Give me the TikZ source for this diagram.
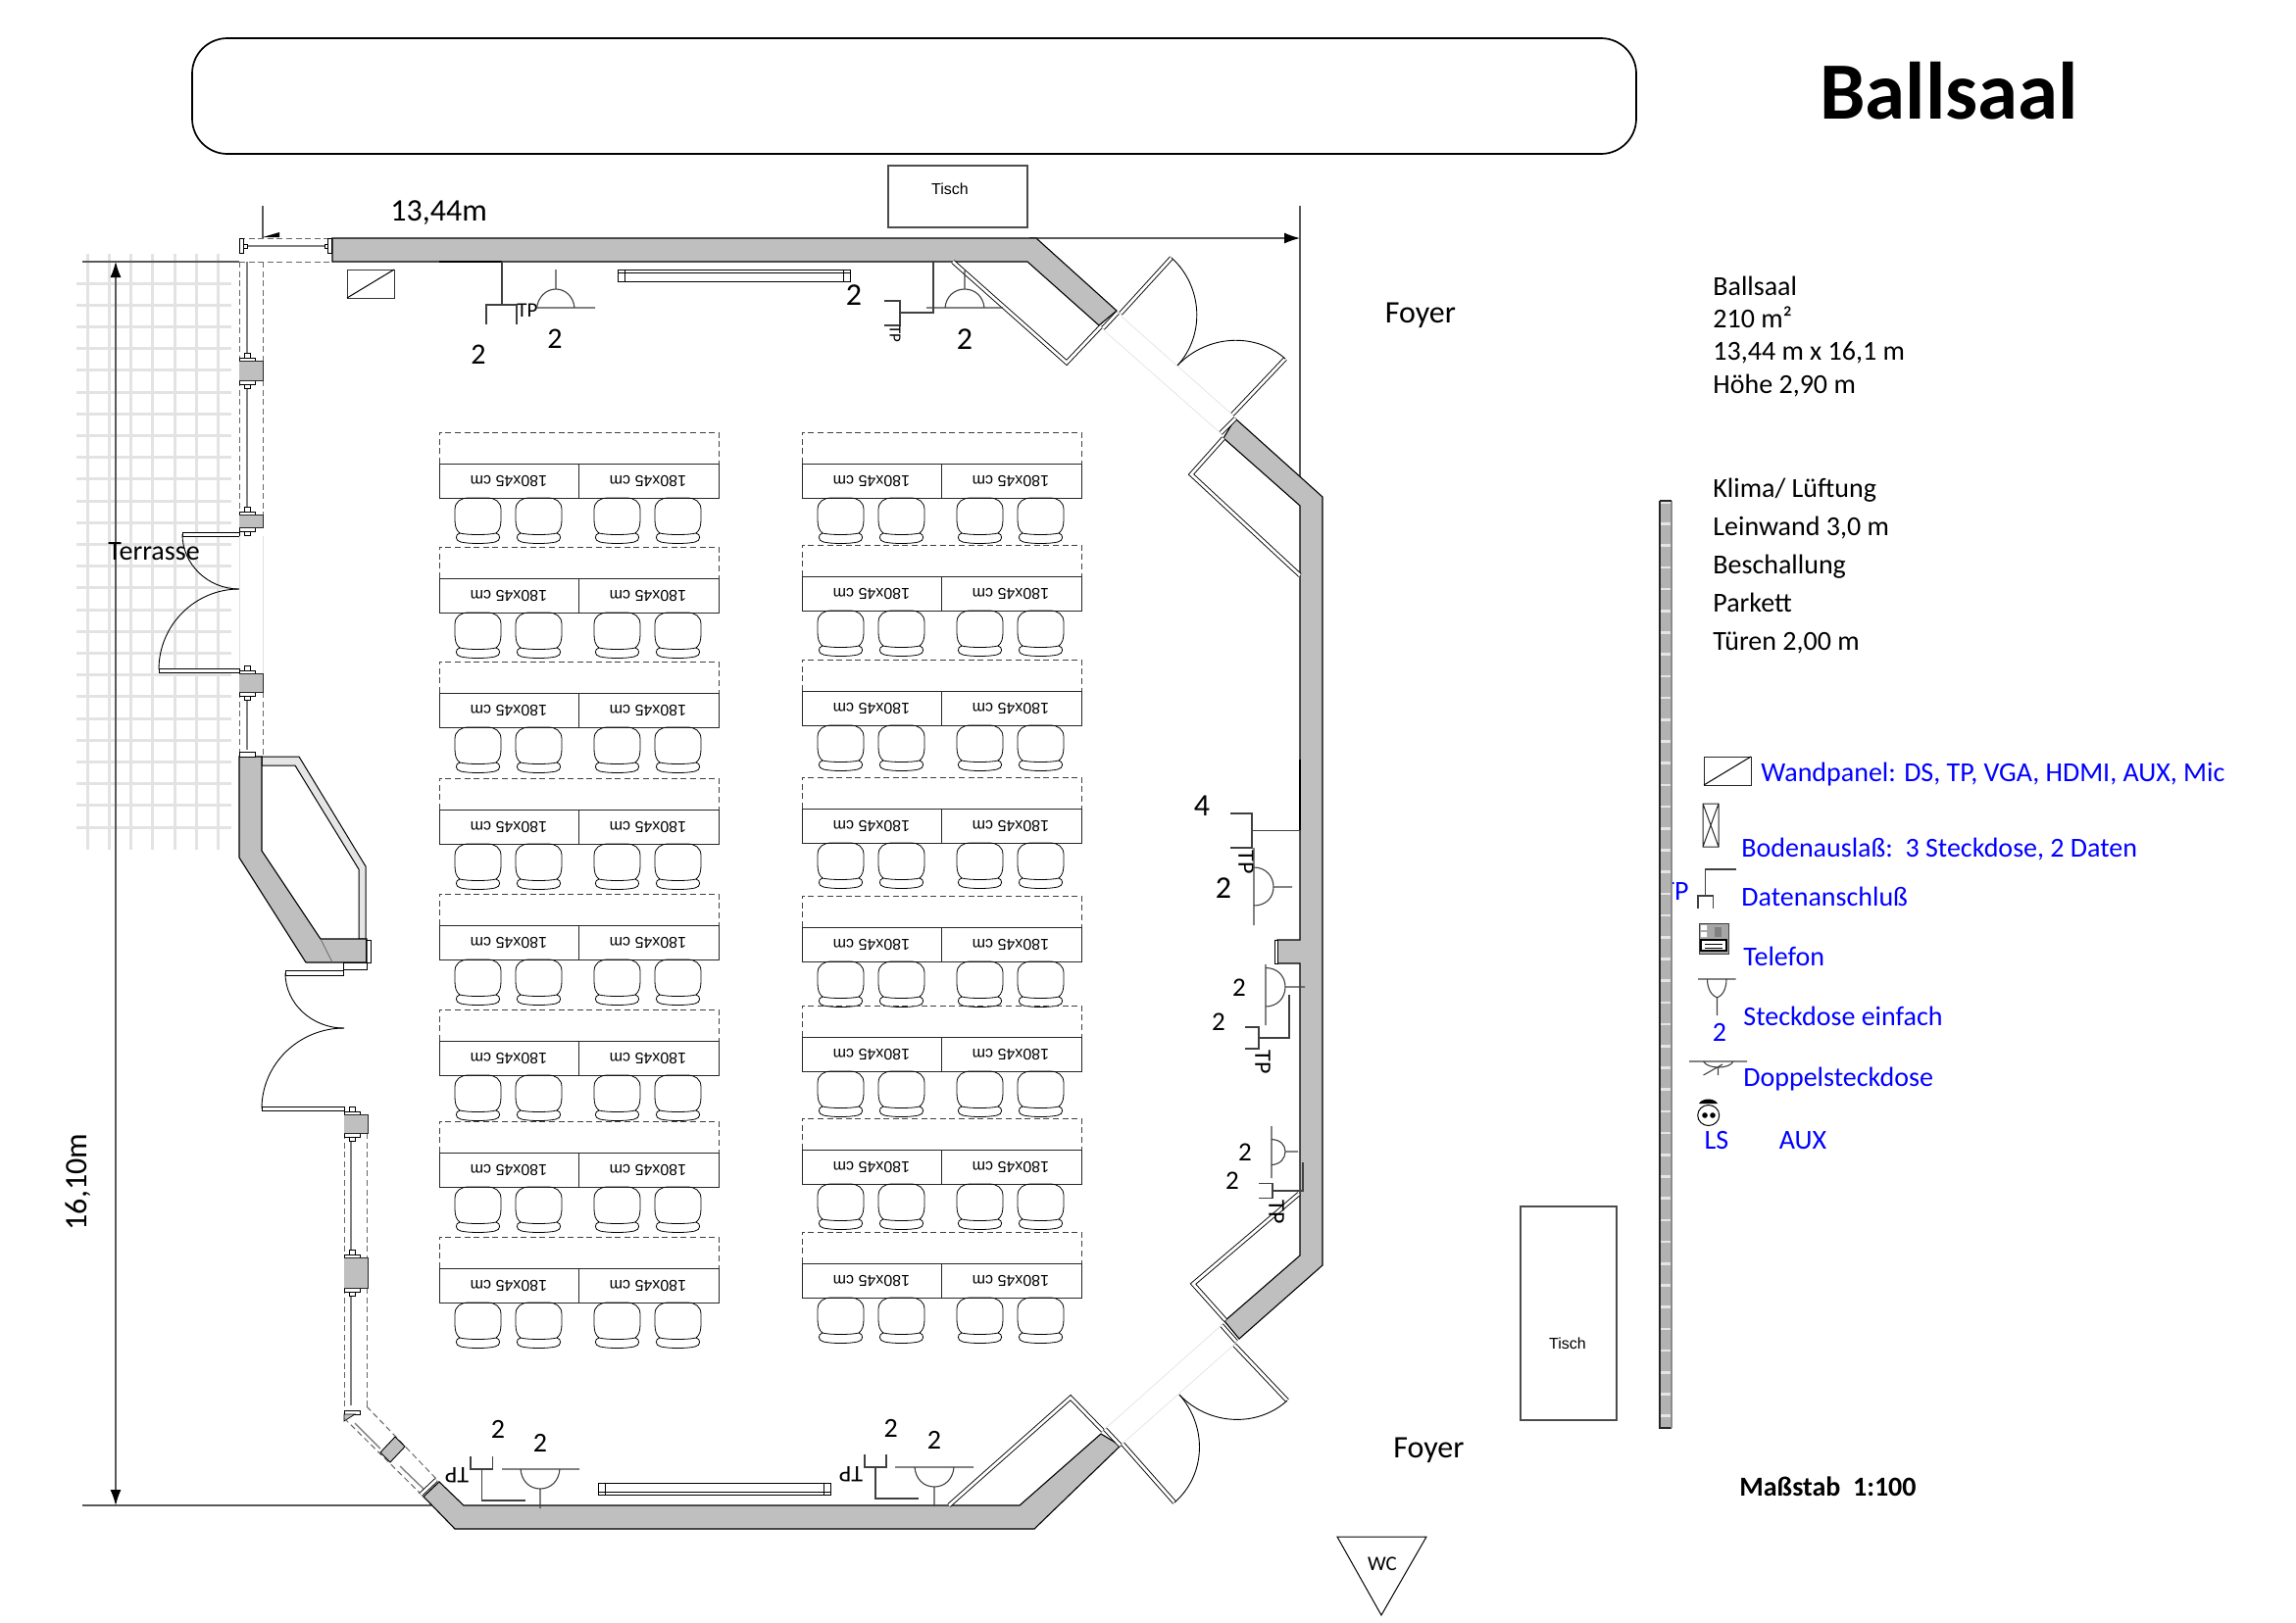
\documentclass[tikz,border=0pt]{standalone}
\usepackage{fontspec}
\setmainfont{Carlito}
\newfontfamily\arialf{Liberation Sans}
\usetikzlibrary{calc,arrows.meta}
\definecolor{wallg}{gray}{.75}
\definecolor{stripg}{gray}{.70}
\definecolor{gridg}{gray}{.89}
\definecolor{legblue}{rgb}{0,0,1}
\newcommand{\szf}[1]{\fontsize{#1}{#1}\selectfont}
\tikzset{
  x=0.5pt,y=-0.5pt,
  thin line/.style={line width=.45pt,draw=black},
  wall/.style={fill=wallg,draw=black,line width=.55pt,line join=miter},
  band/.style={fill=black!10,draw=black,line width=.5pt},
  dbl/.style={line width=.45pt,double=white,double distance=1.4pt,draw=black,line join=miter},
  faint/.style={line width=.3pt,draw=black!12},
  dimline/.style={line width=.6pt,draw=black!65},
  dimarrow/.style={-{Latex[length=8pt,width=5.5pt,black]}},
  sym/.style={line width=.55pt,draw=black!75},
  dash box/.style={line width=.4pt,draw=black!75,dash pattern=on 3pt off 1.8pt},
  win dash/.style={line width=.5pt,draw=black!60,dash pattern=on 3pt off 1.8pt},
  rod/.style={line width=.7pt,draw=black!50},
  gridl/.style={line width=1.5pt,draw=gridg},
  txt/.style={inner sep=0pt,anchor=base west,text=black},
  ctr/.style={inner sep=0pt,anchor=center,text=black},
  leg/.style={inner sep=0pt,anchor=base west,text=legblue,font=\szf{14}},
  info/.style={inner sep=0pt,anchor=base west,text=black,font=\szf{14}},
  num/.style={inner sep=0pt,anchor=center,text=black,font=\szf{16}},
  nums/.style={inner sep=0pt,anchor=center,text=black,font=\szf{13.5}},
  tp/.style={inner sep=0pt,anchor=center,text=black,font=\szf{12}},
  tablabel/.style={inner sep=0pt,anchor=center,rotate=180,font=\arialf\szf{8},text=black},
}
% door: hinge, tip, end of arc
\newcommand{\doorarc}[6]{%
  \draw[thin line] (#3,#4) .. controls ($(#3,#4)+0.55*(#5,#6)-0.55*(#1,#2)$) and ($(#5,#6)+0.55*(#3,#4)-0.55*(#1,#2)$) .. (#5,#6);
}
\newcommand{\seat}[2]{%
  \begin{scope}[shift={(#1,#2)}]
  \draw[line width=.4pt] (5,36) .. controls (1,33) and (0,28) .. (0,22) -- (0,12) .. controls (0,4) and (6,0) .. (14,0) -- (33,0) .. controls (41,0) and (47,4) .. (47,12) -- (47,22) .. controls (47,28) and (46,33) .. (42,36) .. controls (34,38) and (13,38) .. (5,36) .. controls (0,37) and (0,44) .. (6,45) .. controls (15,47) and (32,47) .. (41,45) .. controls (47,44) and (47,37) .. (42,36);
  \end{scope}%
}
% left x, dashed top y
\newcommand{\tablerow}[2]{%
  \begin{scope}[shift={(#1,#2)}]
  \draw[dash box] (0,32) -- (0,0) -- (285,0) -- (285,32);
  \draw[line width=.4pt,draw=black!85] (0,32) rectangle (285,67);
  \draw[line width=.4pt,draw=black!85] (142,32) -- (142,67);
  \node[tablabel] (tl#1x#2) at (71,50) {180x45 cm};
  \node[tablabel] (tr#1x#2) at (213,50) {180x45 cm};
  \end{scope}
  \pgfmathsetmacro{\sy}{#2+67}%
  \seat{#1+16}{\sy}\seat{#1+78}{\sy}\seat{#1+158}{\sy}\seat{#1+220}{\sy}%
}
% window post in column at x0
\newcommand{\winpost}[3]{%
  \begin{scope}[shift={(#1,0)}]
  \draw[line width=.35pt,fill=white] (5,#2-8) rectangle (11,#2-3);
  \draw[line width=.35pt,fill=white] (0,#2-3) rectangle (16,#2+1);
  \draw[line width=.35pt,fill=white] (5,#3+3) rectangle (11,#3+8);
  \draw[line width=.35pt,fill=white] (0,#3-1) rectangle (16,#3+4);
  \fill[wallg] (0,#2) rectangle (24,#3);
  \draw[line width=.45pt,draw=black!85] (0,#2) -- (24,#2) -- (24,#3) -- (0,#3);
  \end{scope}%
}
\begin{document}
\begin{tikzpicture}
\useasboundingbox (0,0) rectangle (2342,1656);
\fill[white] (0,0) rectangle (2342,1656);

% terrace grid
\foreach \i in {0,...,25} \draw[gridl] (78,289+22.2*\i) -- (236,289+22.2*\i);
\foreach \i in {0,...,6} \draw[gridl] (89+22.3*\i,259) -- (89+22.3*\i,867);

% banner and title
\draw[line width=.85pt,rounded corners=18pt] (196,39) rectangle (1669,157);
\node[ctr,font=\bfseries\szf{41.5}] (title) at (1988,93) {Ballsaal};

% dimension lines
\coordinate (dimTL) at (1050,243); \coordinate (dimTR) at (1326,243);
\coordinate (dimTLe) at (268,210); \coordinate (dimTLf) at (268,243);
\coordinate (dimTRe) at (1326,210);
\coordinate (dimLT) at (118,267); \coordinate (dimLB) at (118,1536);
\coordinate (extLT) at (84,267); \coordinate (extLTr) at (244,267);
\coordinate (extLB) at (84,1536); \coordinate (extLBr) at (440,1536);
\coordinate (dimTRw) at (1326,500);
\draw[dimline] (dimTLe) -- (dimTLf);
\draw[dimline] (dimTRe) -- (dimTRw);
\draw[dimline,dimarrow] (dimTL) -- (dimTR);
\fill[black] (268,242) -- (285,237) -- (285,242) -- cycle;
\draw[dimline] (extLT) -- (extLTr);
\draw[dimline] (extLB) -- (extLBr);
\draw[dimline,dimarrow] (118,900) -- (dimLT);
\draw[dimline,dimarrow] (118,900) -- (dimLB);
\node[txt,font=\szf{16}] (dimw) at (398,225) {13,44m};
\node[ctr,font=\szf{16},rotate=90] (dimh) at (80,1206) {16,10m};
\node[txt,font=\szf{14}] (terr) at (110,571) {Terrasse};

% walls
\draw[wall] (339,243) -- (1057,243) -- (1139,317) -- (1121,332) -- (1048,267) -- (339,267) -- cycle;
\draw[wall] (1260,427) -- (1349,507) -- (1349,1291) -- (1264,1366) -- (1249,1348) -- (1326,1281) -- (1326,983) -- (1303,983) -- (1303,959) -- (1326,959) -- (1326,516) -- (1248,447) -- cycle;
\draw[wall] (432,1527) -- (448,1512) -- (473,1536) -- (1040,1536) -- (1123,1463) -- (1143,1475) -- (1055,1560) -- (464,1560) -- cycle;
\draw[band] (267,772) -- (305,772) -- (373,884) -- (373,958) -- (366,958) -- (366,887) -- (301,781) -- (267,781) -- cycle;
\draw[wall] (244,772) -- (267,772) -- (267,868) -- (327,958) -- (374,958) -- (374,982) -- (312,982) -- (244,875) -- cycle;
\draw[line width=.3pt,draw=black!70] (327,958) -- (339,982);
\draw[line width=.45pt] (373,959) rectangle (378,982);
\draw[line width=.45pt,fill=white] (350,982) rectangle (374,989);
\draw[line width=.45pt,fill=white] (1300,959) rectangle (1303,983);

% alcove double lines
\draw[dbl] (972,267) -- (1088,370) -- (1124,332);
\draw[dbl] (1248,447) -- (1215,484) -- (1326,587);
\draw[dbl] (1250,1347) -- (1217,1310) -- (1325,1218);
\draw[dbl] (968,1536) -- (1092,1426) -- (1125,1460);

% door leaves and posts
\draw[dbl] (1125,335) -- (1140,319);
\draw[dbl] (1245,442) -- (1260,427);
\draw[dbl] (1246,1352) -- (1261,1369);
\draw[dbl] (1127,1458) -- (1143,1475);
\draw[dbl] (1143,320) -- (1195,263);
\draw[dbl] (1257,423) -- (1311,366);
\draw[dbl] (1259,1372) -- (1313,1429);
\draw[dbl] (1145,1473) -- (1198,1533);
\draw[line width=.45pt,fill=white] (186,543) rectangle (244,547);
\draw[line width=.45pt,fill=white] (162,682) rectangle (244,686);
\draw[line width=.45pt,fill=white] (291,990) rectangle (350,995);
\draw[line width=.45pt,fill=white] (267,1129) rectangle (351,1133);
\doorarc{1143}{320}{1195}{263}{1201}{373}
\doorarc{1257}{423}{1311}{366}{1201}{373}
\doorarc{1259}{1372}{1313}{1429}{1203}{1423}
\doorarc{1145}{1473}{1198}{1533}{1203}{1423}
\doorarc{244}{545}{186}{545}{244}{601}
\doorarc{244}{683}{162}{683}{244}{601}
\doorarc{351}{993}{291}{993}{351}{1049}
\doorarc{351}{1131}{267}{1131}{351}{1049}
\draw[faint] (1127,338) -- (1245,442);
\draw[faint] (1144,323) -- (1257,423);
\draw[faint] (1127,1458) -- (1246,1352);
\draw[faint] (1145,1473) -- (1259,1372);
\draw[faint] (244,547) -- (244,682);
\draw[faint] (268,547) -- (268,687);

% window column top left
\draw[win dash] (244,243) -- (338,243);
\draw[win dash] (244,267) -- (338,267);
\draw[win dash] (244,267) -- (244,368);
\draw[win dash] (268,267) -- (268,368);
\draw[win dash] (244,388) -- (244,525);
\draw[win dash] (268,388) -- (268,525);
\draw[win dash] (244,706) -- (244,772);
\draw[win dash] (268,706) -- (268,772);
\draw[line width=.4pt,fill=white] (244,243) rectangle (248,258);
\draw[line width=.4pt,fill=white] (334,243) rectangle (338,258);
\draw[rod] (252,251) -- (331,251);
\draw[line width=.4pt,fill=white] (248,249) rectangle (252,253);
\draw[line width=.4pt,fill=white] (331,249) rectangle (334,253);
\draw[rod] (252,267) -- (252,361);
\draw[rod] (252,393) -- (252,517);
\draw[rod] (252,712) -- (252,765);
\draw[line width=.4pt,fill=white] (244,767) rectangle (260,772);
\winpost{244}{368}{388}
\winpost{244}{525}{538}
\winpost{244}{687}{706}

% window column lower left
\draw[win dash] (351,1156) -- (351,1283);
\draw[win dash] (374,1156) -- (374,1283);
\draw[win dash] (351,1314) -- (351,1443);
\draw[win dash] (374,1314) -- (374,1435);
\draw[rod] (358,1164) -- (358,1275);
\draw[rod] (358,1322) -- (358,1434);
\winpost{351}{1137}{1156}
\winpost{351}{1283}{1314}
\draw[line width=.4pt,fill=white] (351,1439) rectangle (367,1443);
\fill[wallg,draw=black,line width=.35pt] (351,1443) -- (362,1443) -- (351,1450) -- cycle;

% diagonal window
\draw[win dash] (351,1447) -- (432,1527);
\draw[win dash] (374,1435) -- (448,1512);
\draw[rod] (362,1452) -- (388,1478);
\draw[rod] (408,1496) -- (434,1521);
\fill[wallg,draw=black,line width=.45pt] (403,1466) -- (413,1476) -- (398,1492) -- (388,1482) -- cycle;
\draw[dbl] (429,1525) -- (445,1510);

% screens
\draw[line width=.5pt] (630,275) rectangle (867,287);
\draw[line width=.35pt] (637,275) -- (637,287) (860,275) -- (860,287) (630,278) -- (867,278);
\draw[line width=.5pt] (610,1513) rectangle (847,1525);
\draw[line width=.35pt] (617,1513) -- (617,1525) (840,1513) -- (840,1525) (610,1522.5) -- (847,1522.5);

% top Tisch
\node[draw=black!70,line width=.55pt,minimum width=71pt,minimum height=31.5pt,inner sep=0pt] (tisch1) at (977,200.5) {};
\node[ctr,font=\arialf\szf{8}] (tischt1) at (969,193) {Tisch};
% right Tisch
\node[draw=black!70,line width=.55pt,minimum width=49pt,minimum height=109pt,inner sep=0pt] (tisch2) at (1600,1340) {};
\node[ctr,font=\arialf\szf{8}] (tischt2) at (1599,1371) {Tisch};

% tables, left column
\foreach \yy in {441,558,675,794,912,1030,1144,1262} {\tablerow{448}{\yy}}
% tables, right column
\foreach \yy in {441,556,673,793,914,1026,1141,1257} {\tablerow{818}{\yy}}

% wall panel top left
\draw[line width=.5pt,draw=black!80] (354,275) rectangle (402,304);
\draw[line width=.5pt] (354,304) -- (402,275);

% symbols, top left
\draw[line width=1.2pt] (448,267) -- (512,267);
\draw[sym] (512,267) -- (512,311) (527,331) -- (527,311) -- (496,311) -- (496,331);
\node[tp,font=\szf{10.5}] (tp1) at (538,317) {TP};
\draw[sym] (547,314) -- (607,314) (547.5,314) .. controls (549,303) and (557,295) .. (567,295) .. controls (577,295) and (585,303) .. (586,314) (567,295) -- (567,275);
\node[num,font=\szf{15}] (n1) at (566,346) {2};
\node[num,font=\szf{15}] (n2) at (488,362) {2};

% symbols, top right
\draw[sym] (952,267) -- (952,319) -- (918,319);
\draw[sym] (902,307) -- (918,307) -- (918,332) -- (902,332);
\draw[sym] (945,314) -- (1023,314) (964,314) .. controls (965,303) and (973,295) .. (984,295) .. controls (995,295) and (1003,303) .. (1004,314) (984,295) -- (984,276);
\node[tp,font=\szf{8.5},rotate=-90] (tp2) at (913,341) {TP};
\node[num] (n3) at (984,346) {2};
\node[num] (n4) at (871,301) {2};

% symbols, right wall 1
\draw[line width=1.2pt] (1326,775) -- (1326,847);
\draw[sym] (1326,847.5) -- (1277,847.5) (1255,830) -- (1277,830) -- (1277,865) -- (1255,865);
\node[tp,rotate=-90] (tp3) at (1271,880) {TP};
\draw[sym] (1279,865) -- (1279,944) (1279,885) .. controls (1291,885) and (1299,894) .. (1299,905) .. controls (1299,916) and (1291,924) .. (1279,924) (1299,905) -- (1318,905);
\node[num] (n5) at (1226,822) {4};
\node[num] (n6) at (1248,906) {2};

% symbols, right wall 2
\draw[sym] (1291,984) -- (1291,1046) (1291,987.5) .. controls (1303,987.5) and (1311,996) .. (1311,1007) .. controls (1311,1018) and (1303,1027) .. (1291,1027) (1311,1007) -- (1331,1007);
\draw[sym] (1315,1015) -- (1315,1059) -- (1284,1059) (1270,1048) -- (1284,1048) -- (1284,1070) -- (1270,1070);
\node[tp,rotate=-90] (tp4) at (1288,1084) {TP};
\node[nums] (n7) at (1264,1008) {2};
\node[nums] (n8) at (1243,1043) {2};

% symbols, right wall 3
\draw[sym] (1297,1149) -- (1297,1202) (1297,1162.5) .. controls (1306,1163) and (1311,1168) .. (1311,1175) .. controls (1311,1182) and (1306,1188) .. (1297,1188.6) (1311,1175) -- (1324,1175);
\draw[sym] (1329,1186) -- (1329,1215) -- (1298,1215) (1284,1207.5) -- (1298,1207.5) -- (1298,1222.5) -- (1284,1222.5);
\node[tp,rotate=-90] (tp5) at (1302,1237) {TP};
\node[nums] (n9) at (1270,1176) {2};
\node[nums] (n10) at (1257,1205) {2};

% symbols, bottom 1
\draw[sym] (480,1486) -- (480,1499) -- (502.5,1499) -- (502.5,1486) (491.4,1499) -- (491.4,1531) -- (536,1531);
\node[tp,rotate=180] (tp6) at (466,1505) {TP};
\draw[sym] (512,1499) -- (591,1499) (531,1499) .. controls (532,1511) and (540,1519) .. (551,1519) .. controls (562,1519) and (570,1511) .. (571,1499) (551,1519) -- (551,1539);
\node[num,font=\szf{14}] (n11) at (508,1458) {2};
\node[num,font=\szf{14}] (n12) at (551,1472) {2};

% symbols, bottom 2
\draw[sym] (882,1484) -- (882,1497) -- (904,1497) -- (904,1484) (893,1497) -- (893,1529) -- (937,1529);
\node[tp,rotate=180] (tp7) at (868,1504) {TP};
\draw[sym] (913,1497) -- (993,1497) (933,1497) .. controls (934,1509) and (942,1517) .. (953,1517) .. controls (964,1517) and (972,1509) .. (973,1497) (953,1517) -- (953,1537);
\node[num,font=\szf{14}] (n13) at (908.6,1457) {2};
\node[num,font=\szf{14}] (n14) at (953,1469) {2};

% foyer labels
\node[ctr,font=\szf{16}] (foyer1) at (1449,322) {Foyer};
\node[ctr,font=\szf{16}] (foyer2) at (1457.5,1480) {Foyer};

% info
\node[info] (i1) at (1747,301) {Ballsaal};
\node[info] (i2) at (1747,334) {210 m²};
\node[info] (i3) at (1747,367) {13,44 m x 16,1 m};
\node[info] (i4) at (1747,401) {Höhe 2,90 m};
\node[info] (i5) at (1747,507) {Klima/ Lüftung};
\node[info] (i6) at (1747,546) {Leinwand 3,0 m};
\node[info] (i7) at (1747,585) {Beschallung};
\node[info] (i8) at (1747,624) {Parkett};
\node[info] (i9) at (1747,663) {Türen 2,00 m};

% legend
\node[leg] (ltp) at (1694,918) {TP};
\fill[stripg] (1692,511) rectangle (1705,1457);
\foreach \i in {0,...,42} \fill[black!10] (1694,511+22.2*\i) rectangle (1704,513.5+22.2*\i);
\draw[line width=1.1pt,draw=black!85] (1693,511) -- (1693,1457) -- (1705,1457);
\draw[line width=.8pt,draw=black!45] (1705,511) -- (1705,1457);
\draw[line width=.8pt,draw=black!85] (1693,511) -- (1705,511);

\draw[line width=.5pt,draw=black!85] (1738,772) rectangle (1786,801);
\draw[line width=.5pt] (1738,801) -- (1786,772);
\node[leg] (l1) at (1796,797) {Wandpanel: DS, TP, VGA, HDMI, AUX, Mic};
\draw[line width=.5pt,draw=black!85] (1737,820) rectangle (1753,864) (1737,820) -- (1753,864) (1753,820) -- (1737,864);
\node[leg] (l2) at (1776,874) {Bodenauslaß:\ \ 3 Steckdose, 2 Daten};
\draw[sym] (1770.5,887) -- (1739.5,887) -- (1739.5,914) (1732,927) -- (1732,914) -- (1747.5,914) -- (1747.5,927);
\node[leg] (l3) at (1776,924) {Datenanschluß};
\fill[black!35] (1733,942) rectangle (1763,973);
\draw[line width=.5pt,draw=black!75] (1733,942) rectangle (1763,973);
\fill[white] (1735,944) rectangle (1741,949) (1735,951) rectangle (1741,956);
\fill[black!50] (1749,946) rectangle (1756,956);
\draw[line width=.6pt,fill=white] (1735,959) rectangle (1761,970);
\draw[line width=.4pt] (1739,963) -- (1757,963) (1739,967) -- (1757,967);
\node[leg] (l4) at (1778,985) {Telefon};
\draw[sym] (1732,999) -- (1770.5,999) (1741.5,999) .. controls (1741.5,1009) and (1746,1016) .. (1751.5,1018) .. controls (1757,1016) and (1761,1009) .. (1761,999) (1751.5,1018) -- (1751.5,1036);
\node[leg] (l5) at (1778,1046) {Steckdose einfach};
\node[leg,anchor=base] (l6) at (1754,1062) {2};
\draw[sym] (1723,1083) -- (1782,1083) (1737.5,1083) .. controls (1740,1087) and (1746,1089) .. (1752.5,1089) .. controls (1760,1089) and (1766,1087) .. (1768,1083) (1752.5,1089) -- (1752.5,1097) (1737.5,1097) -- (1757,1086);
\node[leg] (l7) at (1778,1108) {Doppelsteckdose};
\draw[line width=.5pt] (1742.7,1138) ellipse [x radius=11,y radius=10.5];
\fill[black] (1739,1138) circle [radius=2.8] (1747,1138) circle [radius=2.8];
\fill[black] (1733,1126) .. controls (1736,1120) and (1749,1120) .. (1752,1126) -- cycle;
\node[leg,anchor=base] (l8) at (1751,1172) {LS};
\node[leg,anchor=base] (l9) at (1839,1172) {AUX};

% scale, WC
\node[txt,font=\bfseries\szf{14}] (scale) at (1774,1526) {Maßstab\ \ 1:100};
\draw[line width=.5pt] (1364,1568) -- (1455,1568) -- (1409,1648) -- cycle;
\node[ctr,font=\szf{10.5}] (wc) at (1410,1596) {WC};
\end{tikzpicture}
\end{document}
